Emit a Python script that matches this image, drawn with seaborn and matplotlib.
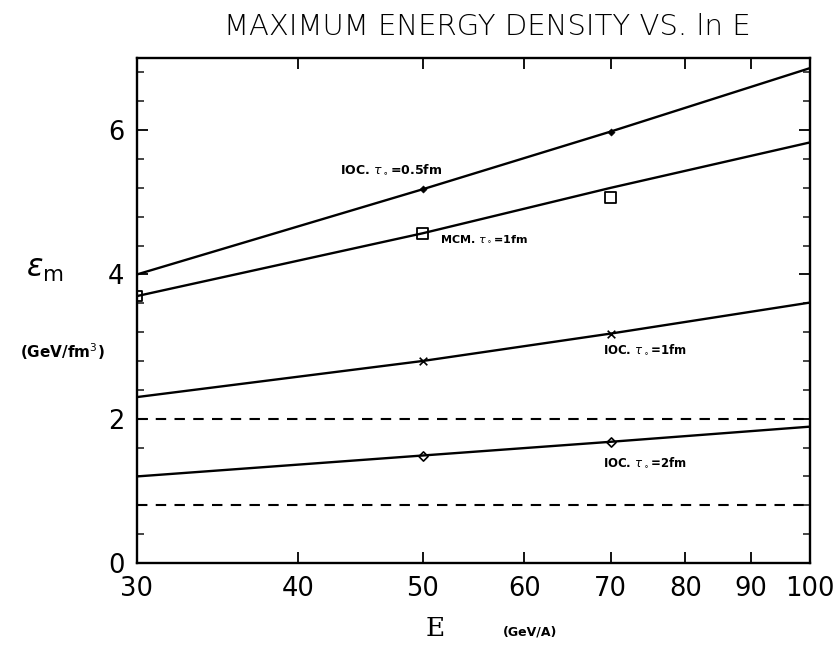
import matplotlib
matplotlib.use("Agg")
import matplotlib.pyplot as plt
import seaborn as sns
import pandas as pd
from matplotlib.ticker import FixedLocator, NullLocator, MultipleLocator

sns.set_theme(style="ticks")
plt.rcParams['font.family'] = ['DejaVu Sans']
plt.rcParams['text.color'] = 'black'
plt.rcParams['axes.labelcolor'] = 'black'

# ---- data ----
energies = [30, 50, 70, 100]
ioc_05 = [4.0, 5.18, 5.98, 6.86]
mcm_line = [3.7, 4.57, 5.2, 5.83]
mcm_pts_E = [30, 50, 70]
mcm_pts = [3.7, 4.57, 5.07]
ioc_1 = [2.3, 2.8, 3.18, 3.61]
ioc_2 = [1.2, 1.49, 1.68, 1.89]
mark_E = [50, 70]
dashed_levels = [2.0, 0.8]
x_ticks = [30, 40, 50, 60, 70, 80, 90, 100]
labels = {
    "ioc05": r"IOC. $\tau_\circ$=0.5fm",
    "mcm": r"MCM. $\tau_\circ$=1fm",
    "ioc1": r"IOC. $\tau_\circ$=1fm",
    "ioc2": r"IOC. $\tau_\circ$=2fm",
}

df = pd.DataFrame({"E": energies, "ioc05": ioc_05, "mcm": mcm_line,
                   "ioc1": ioc_1, "ioc2": ioc_2})

fig = plt.figure(figsize=(8.4, 6.46), dpi=100)
ax = fig.add_axes([137/840, 1-563/646, (810-137)/840, (563-58)/646])
ax.set_xscale("log")

for col in ["ioc05", "mcm", "ioc1", "ioc2"]:
    sns.lineplot(data=df, x="E", y=col, ax=ax, color="black", lw=1.7)

for lvl in dashed_levels:
    ax.axhline(lvl, color="black", lw=1.5, ls=(0, (5, 4)))

# markers
sub = df[df["E"].isin(mark_E)]
sns.scatterplot(x=sub["E"], y=sub["ioc05"], ax=ax, marker="D", s=14, color="black", edgecolor="black")
sns.scatterplot(x=sub["E"], y=sub["ioc1"], ax=ax, marker="x", s=30, color="black", linewidth=1.2)
sns.scatterplot(x=sub["E"], y=sub["ioc2"], ax=ax, marker="D", s=22, facecolor="white", edgecolor="black", linewidth=1.2)
sns.scatterplot(x=mcm_pts_E, y=mcm_pts, ax=ax, marker="s", s=60, facecolor="none", edgecolor="black", linewidth=1.3)

ax.set_xlim(30, 100)
ax.set_ylim(0, 7)
ax.xaxis.set_major_locator(FixedLocator(x_ticks))
ax.xaxis.set_minor_locator(NullLocator())
ax.set_xticklabels([str(t) for t in x_ticks])
ax.yaxis.set_major_locator(MultipleLocator(2))
ax.yaxis.set_minor_locator(MultipleLocator(0.4))
ax.tick_params(axis="both", which="major", direction="in", length=8, width=1.3,
               top=True, right=True, labelsize=18.5, colors="black", pad=9)
ax.tick_params(axis="y", which="minor", direction="in", length=5, width=1.2,
               right=True, left=True)
for s in ax.spines.values():
    s.set_linewidth(1.7)
    s.set_color("black")
ax.set_xlabel("")
ax.set_ylabel("")

# annotations
ax.text(43.1, 5.46, labels["ioc05"], fontsize=9, fontweight="bold", ha="left", va="center")
ax.text(51.6, 4.49, labels["mcm"], fontsize=8, fontweight="bold", ha="left", va="center")
ax.text(69.0, 2.96, labels["ioc1"], fontsize=8.5, fontweight="bold", ha="left", va="center")
ax.text(69.0, 1.40, labels["ioc2"], fontsize=8.5, fontweight="bold", ha="left", va="center")

fig.text(487/840, 1-27/646, "MAXIMUM ENERGY DENSITY VS. ln E", fontsize=21,
         ha="center", va="center", family="DejaVu Sans", fontweight="light", color="black")
fig.text(45/840, 1-270/646, r"$\epsilon_{\mathrm{m}}$", fontsize=22, ha="center", va="center", color="black")
fig.text(62/840, 1-352/646, r"(GeV/fm$^3$)", fontsize=11, fontweight="bold", ha="center", va="center", color="black")
fig.text(435/840, 1-628/646, "E", fontsize=19, family="DejaVu Serif", ha="center", va="center", color="black")
fig.text(530/840, 1-632/646, "(GeV/A)", fontsize=9, fontweight="bold", ha="center", va="center", color="black")

fig.savefig("out.png", dpi=100)
